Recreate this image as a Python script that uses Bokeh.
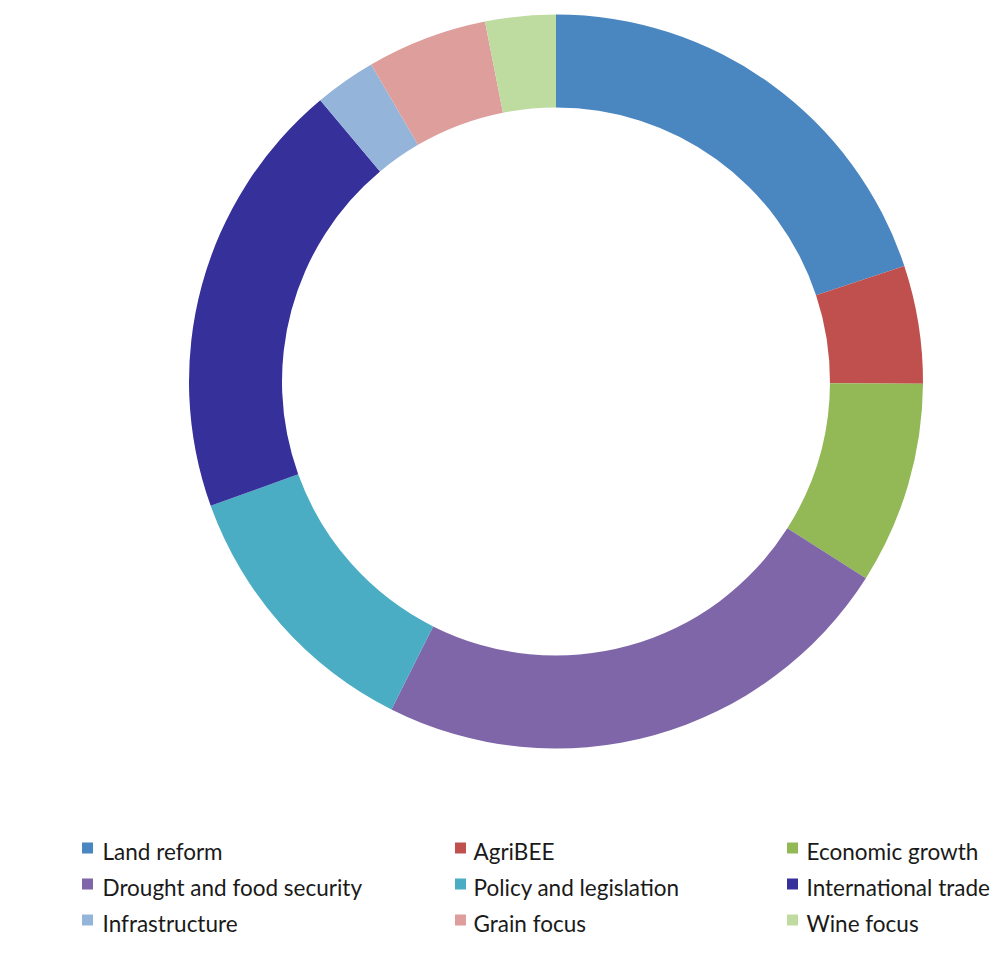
import numpy as np
from bokeh.plotting import figure
from bokeh.models import ColumnDataSource, Range1d
from bokeh.core.properties import value
from bokeh.embed import file_html
from bokeh.resources import INLINE

categories = ["Land reform", "AgriBEE", "Economic growth",
              "Drought and food security", "Policy and legislation", "International trade",
              "Infrastructure", "Grain focus", "Wine focus"]
shares = [19.9, 5.2, 8.9, 23.4, 12.1, 19.4, 2.7, 5.3, 3.1]
colors = ["#4A86C0", "#C0504D", "#93B957",
          "#7F66A8", "#4AADC4", "#36309B",
          "#95B4DA", "#DE9E9C", "#BEDBA0"]

W, H = 1006, 943
p = figure(width=W, height=H, output_backend="svg", toolbar_location=None,
           x_range=Range1d(0, W), y_range=Range1d(0, H), min_border=0,
           outline_line_color=None)
p.axis.visible = False
p.grid.visible = False

vals = np.array(shares, dtype=float)
frac = vals / vals.sum()
cum_end = np.cumsum(frac)
cum_start = cum_end - frac
start = np.pi / 2 - cum_start * 2 * np.pi
end = np.pi / 2 - cum_end * 2 * np.pi

cx, cy = 555.5, 562.0
src = ColumnDataSource(dict(start=start, end=end, color=colors, cat=categories))
p.annular_wedge(x=cx, y=cy, inner_radius=274, outer_radius=367,
                start_angle="start", end_angle="end", direction="clock",
                fill_color="color", line_color=None, source=src)

# legend (3 columns, row-major)
idx = np.arange(len(categories))
col = idx % 3
row = idx // 3
col_sq = np.array([87.0, 460.0, 792.0])
col_tx = np.array([102.0, 473.0, 806.0])
row_y = np.array([92.5, 56.5, 20.5])
lsrc = ColumnDataSource(dict(sx=col_sq[col], tx=col_tx[col], y=row_y[row],
                             sy=row_y[row] + 3, color=colors, cat=categories))
p.scatter(x="sx", y="sy", marker="square", size=11, fill_color="color",
          line_color=None, source=lsrc)
p.text(x="tx", y="y", text="cat", source=lsrc, text_font=value("Lato"),
       text_font_size="22.5px", text_color="#1a1a1a", text_baseline="middle",
       text_align="left")

open("out.html", "w").write(file_html(p, INLINE))
